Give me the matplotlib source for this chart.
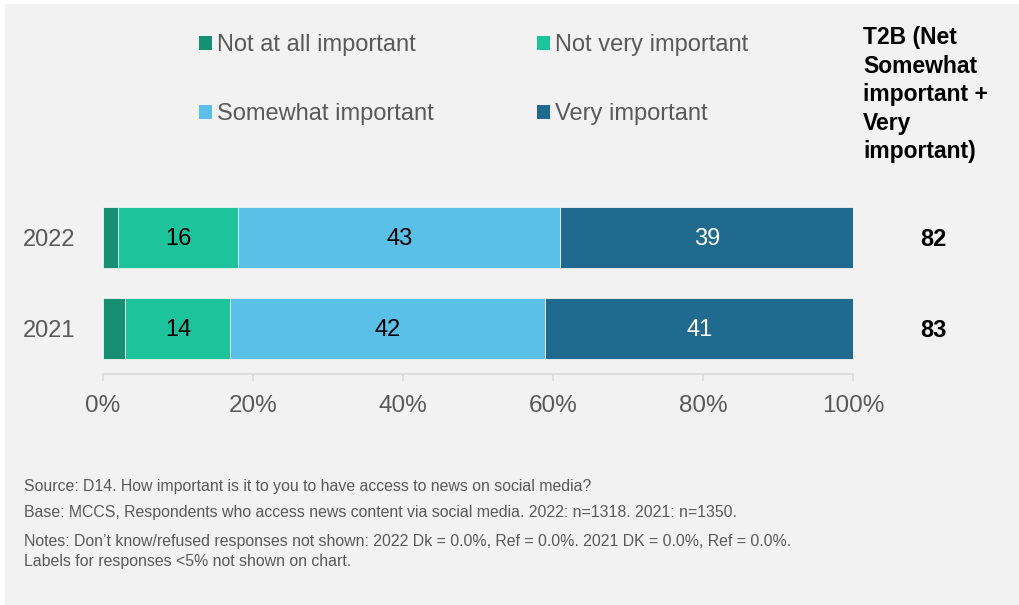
import matplotlib
matplotlib.use('Agg')
import matplotlib.pyplot as plt
from matplotlib.patches import Rectangle, Patch
from matplotlib.transforms import blended_transform_factory

plt.rcParams['font.family'] = ['Liberation Sans', 'DejaVu Sans']

years = ['2021', '2022']
categories = ['Not at all important', 'Not very important',
              'Somewhat important', 'Very important']
colors = ['#168f72', '#1dc49b', '#5bc0e8', '#206a8f']
label_colors = ['black', 'black', 'black', 'white']

# share of respondents per answer, one list per category (2021, 2022)
not_at_all = [3, 2]
not_very = [14, 16]
somewhat = [42, 43]
very = [41, 39]
series = [not_at_all, not_very, somewhat, very]

t2b = [s + v for s, v in zip(somewhat, very)]

footnotes = [
    "Source: D14. How important is it to you to have access to news on social media?",
    "Base: MCCS, Respondents who access news content via social media. 2022: n=1318. 2021: n=1350.",
    "Notes: Don\u2019t know/refused responses not shown: 2022 Dk = 0.0%, Ref = 0.0%. 2021 DK = 0.0%, Ref = 0.0%.\n"
    "Labels for responses <5% not shown on chart.",
]

W, H = 1020, 605
fig = plt.figure(figsize=(W / 100, H / 100), dpi=100, facecolor='white')
bg = '#f2f2f2'
fig.patches.append(Rectangle((5 / W, 0), 1, 1 - 4 / H, transform=fig.transFigure,
                             facecolor=bg, edgecolor='none', zorder=-10))

ax = fig.add_axes([103 / W, 1 - 374 / H, 750 / W, 182 / H])
ax.set_facecolor('none')

ypos = list(range(len(years)))
left = [0] * len(years)
for vals, col, lc in zip(series, colors, label_colors):
    bars = ax.barh(ypos, vals, left=left, height=0.67, color=col,
                   edgecolor=bg, linewidth=0.6)
    for b, v in zip(bars, vals):
        if v >= 5:
            ax.text(b.get_x() + b.get_width() / 2, b.get_y() + b.get_height() / 2 - 0.02,
                    f"{v}", ha='center', va='center', fontsize=17, color=lc)
    left = [l + v for l, v in zip(left, vals)]

ax.set_xlim(0, 100)
ax.set_ylim(-0.5, 1.5)
ax.set_xticks([0, 20, 40, 60, 80, 100])
ax.set_xticklabels([f"{t}%" for t in [0, 20, 40, 60, 80, 100]])
ax.set_yticks(ypos)
ax.set_yticklabels(years)
ax.tick_params(axis='x', colors='#d9d9d9', labelcolor='#595959', labelsize=17.5,
               length=5, width=1.1, pad=10)
ax.tick_params(axis='y', length=0, labelcolor='#595959', labelsize=17, pad=20)
for side in ['top', 'right', 'left']:
    ax.spines[side].set_visible(False)
ax.spines['bottom'].set_color('#d9d9d9')
ax.spines['bottom'].set_linewidth(1.1)

# T2B column
fig.text(863 / W, 1 - 26 / H,
         "T2B (Net\nSomewhat\nimportant +\nVery\nimportant)",
         ha='left', va='top', fontsize=16.5, fontweight='bold', linespacing=1.31)
t2b_tr = blended_transform_factory(fig.transFigure, ax.transData)
for y, v in zip(ypos, t2b):
    ax.text(933 / W, y - 0.02, f"{v}", transform=t2b_tr,
            ha='center', va='center', fontsize=17, fontweight='bold')

# legend filled row by row
order = [0, 2, 1, 3]
handles = [Patch(facecolor=colors[i], edgecolor='none') for i in order]
fig.legend(handles, [categories[i] for i in order], loc='upper left',
           bbox_to_anchor=(199 / W, 1 - 34 / H), bbox_transform=fig.transFigure,
           ncol=2, frameon=False, fontsize=17, labelcolor='#595959',
           handlelength=0.55, handleheight=0.55, handletextpad=0.2,
           columnspacing=4.4, labelspacing=2.0, borderpad=0, borderaxespad=0)

fy = [487, 513, 534]
for y, txt in zip(fy, footnotes):
    fig.text(24 / W, 1 - y / H, txt, ha='left', va='center' if '\n' not in txt else 'top',
             fontsize=11.4, color='#595959', linespacing=1.4)

fig.savefig('out.png', dpi=100, facecolor=fig.get_facecolor())
